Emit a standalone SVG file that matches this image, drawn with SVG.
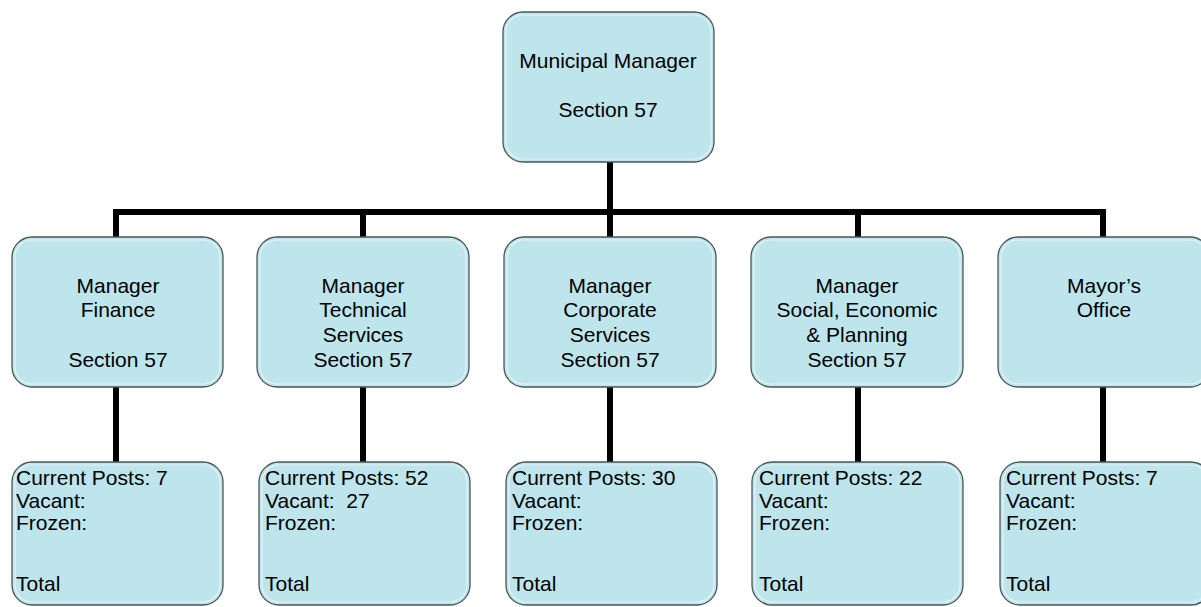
<svg xmlns="http://www.w3.org/2000/svg" width="1201" height="607" viewBox="0 0 1201 607">
<style>
.box{fill:#bee4ec;stroke:#4a5656;stroke-width:1.3}
.inner{fill:none;stroke:#e4f4f6;stroke-width:1.2}
.t{font-family:"Liberation Sans",Arial,sans-serif;font-size:21px;fill:#000}
.c{text-anchor:middle}
.ln{stroke:#000;stroke-width:6;fill:none}
</style>
<rect width="1201" height="607" fill="#fff"/>
<g id="connectors">
<line class="ln" x1="610" y1="162" x2="610" y2="212"/>
<line class="ln" x1="113" y1="212" x2="1106" y2="212"/>
<line class="ln" x1="116" y1="212" x2="116" y2="237"/>
<line class="ln" x1="363" y1="212" x2="363" y2="237"/>
<line class="ln" x1="610" y1="212" x2="610" y2="237"/>
<line class="ln" x1="858" y1="212" x2="858" y2="237"/>
<line class="ln" x1="1103" y1="212" x2="1103" y2="237"/>
<line class="ln" x1="116" y1="387" x2="116" y2="462"/>
<line class="ln" x1="363" y1="387" x2="363" y2="462"/>
<line class="ln" x1="610" y1="387" x2="610" y2="462"/>
<line class="ln" x1="858" y1="387" x2="858" y2="462"/>
<line class="ln" x1="1103" y1="387" x2="1103" y2="462"/>
</g>
<g id="mm">
<rect class="box" x="503" y="12" width="211" height="150" rx="20"/>
<rect class="inner" x="506" y="15" width="205" height="144" rx="17"/>
<text class="t c" x="608" y="68">Municipal Manager</text>
<text class="t c" x="608" y="117">Section 57</text>
</g>
<g id="finance">
<rect class="box" x="12" y="237" width="211" height="150" rx="20"/>
<rect class="inner" x="15" y="240" width="205" height="144" rx="17"/>
<text class="t c" x="118" y="293">Manager</text>
<text class="t c" x="118" y="317">Finance</text>
<text class="t c" x="118" y="367">Section 57</text>
</g>
<g id="technical">
<rect class="box" x="257" y="237" width="212" height="150" rx="20"/>
<rect class="inner" x="260" y="240" width="206" height="144" rx="17"/>
<text class="t c" x="363" y="293">Manager</text>
<text class="t c" x="363" y="317">Technical</text>
<text class="t c" x="363" y="342">Services</text>
<text class="t c" x="363" y="367">Section 57</text>
</g>
<g id="corporate">
<rect class="box" x="504" y="237" width="212" height="150" rx="20"/>
<rect class="inner" x="507" y="240" width="206" height="144" rx="17"/>
<text class="t c" x="610" y="293">Manager</text>
<text class="t c" x="610" y="317">Corporate</text>
<text class="t c" x="610" y="342">Services</text>
<text class="t c" x="610" y="367">Section 57</text>
</g>
<g id="social">
<rect class="box" x="751" y="237" width="212" height="150" rx="20"/>
<rect class="inner" x="754" y="240" width="206" height="144" rx="17"/>
<text class="t c" x="857" y="293">Manager</text>
<text class="t c" x="857" y="317">Social, Economic</text>
<text class="t c" x="857" y="342">&amp; Planning</text>
<text class="t c" x="857" y="367">Section 57</text>
</g>
<g id="mayor">
<rect class="box" x="998" y="237" width="212" height="150" rx="20"/>
<rect class="inner" x="1001" y="240" width="206" height="144" rx="17"/>
<text class="t c" x="1104" y="293">Mayor’s</text>
<text class="t c" x="1104" y="317">Office</text>
</g>
<g id="posts-finance">
<rect class="box" x="12" y="462" width="211" height="143" rx="20"/>
<rect class="inner" x="15" y="465" width="205" height="137" rx="17"/>
<text class="t" x="16" y="485">Current Posts: 7</text>
<text class="t" x="16" y="508">Vacant:</text>
<text class="t" x="16" y="530">Frozen:</text>
<text class="t" x="16" y="591">Total</text>
</g>
<g id="posts-technical">
<rect class="box" x="259" y="462" width="211" height="143" rx="20"/>
<rect class="inner" x="262" y="465" width="205" height="137" rx="17"/>
<text class="t" x="265" y="485">Current Posts: 52</text>
<text class="t" x="265" y="508">Vacant:&#160; 27</text>
<text class="t" x="265" y="530">Frozen:</text>
<text class="t" x="265" y="591">Total</text>
</g>
<g id="posts-corporate">
<rect class="box" x="506" y="462" width="211" height="143" rx="20"/>
<rect class="inner" x="509" y="465" width="205" height="137" rx="17"/>
<text class="t" x="512" y="485">Current Posts: 30</text>
<text class="t" x="512" y="508">Vacant:</text>
<text class="t" x="512" y="530">Frozen:</text>
<text class="t" x="512" y="591">Total</text>
</g>
<g id="posts-social">
<rect class="box" x="752" y="462" width="211" height="143" rx="20"/>
<rect class="inner" x="755" y="465" width="205" height="137" rx="17"/>
<text class="t" x="759" y="485">Current Posts: 22</text>
<text class="t" x="759" y="508">Vacant:</text>
<text class="t" x="759" y="530">Frozen:</text>
<text class="t" x="759" y="591">Total</text>
</g>
<g id="posts-mayor">
<rect class="box" x="1000" y="462" width="211" height="143" rx="20"/>
<rect class="inner" x="1003" y="465" width="205" height="137" rx="17"/>
<text class="t" x="1006" y="485">Current Posts: 7</text>
<text class="t" x="1006" y="508">Vacant:</text>
<text class="t" x="1006" y="530">Frozen:</text>
<text class="t" x="1006" y="591">Total</text>
</g>
</svg>
